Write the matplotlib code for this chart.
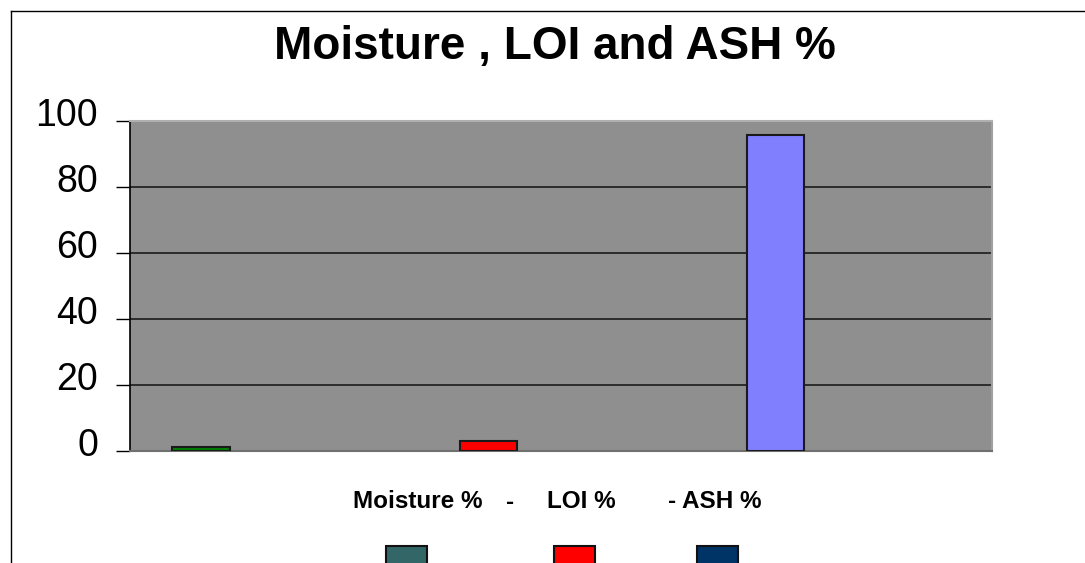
import matplotlib
matplotlib.use('Agg')
import matplotlib.pyplot as plt
import matplotlib.transforms as mtransforms
from matplotlib.patches import Rectangle
from matplotlib.lines import Line2D

# Chart data
categories = ['Moisture %', 'LOI %', 'ASH %']
values = [1.3, 3.0, 95.8]
bar_colors = ['#008000', '#FF0000', '#8080FF']
legend_colors = ['#336666', '#FF0000', '#003366']
y_ticks = [0, 20, 40, 60, 80, 100]
caption_parts = ['Moisture %', '-', 'LOI %', '- ASH %']

plt.rcParams['font.family'] = ['Liberation Sans', 'DejaVu Sans']

W, H = 1085, 563
fig = plt.figure(figsize=(W / 100, H / 100), dpi=100)
fig.patch.set_facecolor('white')

# Plot area in pixel coordinates of the reference
ax = fig.add_axes([130 / W, 1 - 451 / H, (992 - 130) / W, (451 - 121) / H])
ax.set_facecolor('#8f8f8f')

x = list(range(len(categories)))
ax.bar(x, values, width=0.2, color=bar_colors, edgecolor='#1a1a1a',
       linewidth=1.5, zorder=3)

ax.set_xlim(-0.247, 2.753)
ax.set_ylim(0, 100)
ax.set_yticks(y_ticks)
ax.set_yticklabels([str(t) for t in y_ticks], fontsize=27)
ax.set_xticks([])

for t in y_ticks[1:-1]:
    ax.axhline(t, color='#111111', linewidth=1.1, zorder=2)

ax.tick_params(axis='y', direction='out', length=10, width=1,
               color='black', pad=13)
offset = mtransforms.ScaledTranslation(0, 9 / 100, fig.dpi_scale_trans)
for lbl in ax.get_yticklabels():
    lbl.set_transform(lbl.get_transform() + offset)

ax.spines['left'].set_color('black')
ax.spines['left'].set_linewidth(1.2)
ax.spines['bottom'].set_color('#707070')
ax.spines['bottom'].set_linewidth(1.5)
ax.spines['top'].set_color('#b0b0b0')
ax.spines['top'].set_linewidth(1.5)
ax.spines['right'].set_color('#a0a0a0')
ax.spines['right'].set_linewidth(1.5)

# Title
fig.text(555 / W, 1 - 47 / H, 'Moisture , LOI and ASH %', ha='center',
         va='center', fontsize=33, fontweight='bold')

# Category caption row under the plot
for x0, part in zip([353, 506, 547, 668], caption_parts):
    fig.text(x0 / W, 1 - 502 / H, part, ha='left', va='center',
             fontsize=17.5, fontweight='bold')

# Legend swatches (cut off at the bottom edge)
for x0, c in zip([386, 554, 697], legend_colors):
    fig.patches.append(Rectangle((x0 / W, 1 - 566 / H), 41 / W, 20 / H,
                                 transform=fig.transFigure, facecolor=c,
                                 edgecolor='#111111', linewidth=1.5))

# Outer chart frame (top and left edges visible)
fig.lines.append(Line2D([11 / W, 1], [1 - 11 / H, 1 - 11 / H],
                        transform=fig.transFigure, color='black', linewidth=1))
fig.lines.append(Line2D([11 / W, 11 / W], [0, 1 - 11 / H],
                        transform=fig.transFigure, color='black', linewidth=1))

fig.savefig('out.png', dpi=100)
